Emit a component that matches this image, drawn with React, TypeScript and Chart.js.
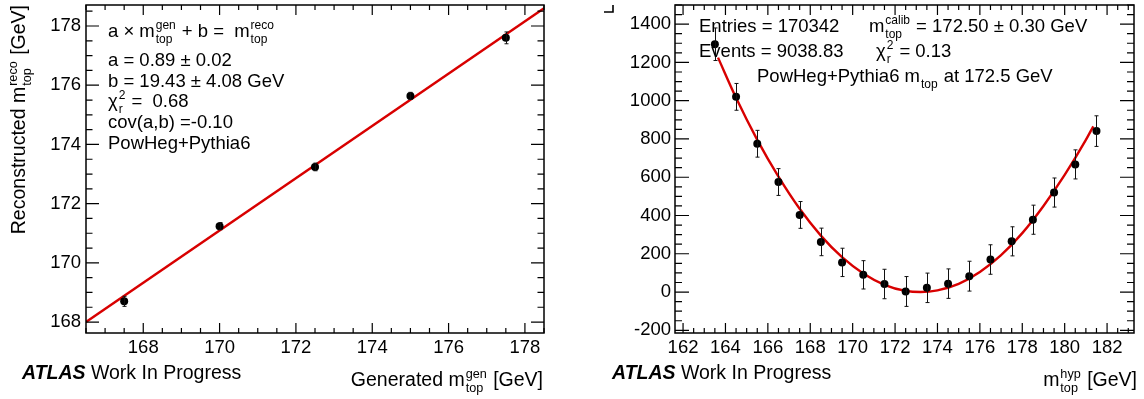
import React, { useEffect, useRef } from "react";
import { Chart, registerables } from "chart.js";

Chart.register(...registerables);

// ---------- Left panel: calibration ----------
const genMass = [167.5, 170.0, 172.5, 175.0, 177.5];
const recoMass = [168.7, 171.24, 173.24, 175.64, 177.6];
const recoErr = [0.17, 0.12, 0.13, 0.12, 0.2];
const fitGen = [166.5, 178.5];
const fitReco = [168.0, 178.6];
const leftXTicks = [168, 170, 172, 174, 176, 178];
const leftYTicks = [168, 170, 172, 174, 176, 178];

// ---------- Right panel: template fit ----------
const hypMass = [163.5, 164.5, 165.5, 166.5, 167.5, 168.5, 169.5, 170.5, 171.5, 172.5, 173.5, 174.5, 175.5, 176.5, 177.5, 178.5, 179.5, 180.5, 181.5];
const hypValue = [1295, 1020, 775, 575, 403, 262, 155, 90, 42, 3, 22, 44, 83, 170, 265, 378, 520, 667, 841];
const hypErr = [85, 70, 70, 70, 70, 72, 74, 74, 77, 78, 77, 77, 78, 77, 76, 76, 76, 76, 80];
const curveMass = [163.65, 164.5, 165.5, 166.5, 167.5, 168.5, 169.5, 170.5, 171.5, 172.5, 173.2, 174.0, 175.0, 176.0, 177.0, 178.0, 179.0, 180.0, 181.0, 181.35];
const curveValue = [1225, 1015, 795, 603, 435, 295, 182, 97, 38, 6, 0, 9, 43, 105, 193, 308, 450, 612, 795, 866];
const rightXTicks = [162, 164, 166, 168, 170, 172, 174, 176, 178, 180, 182];
const rightYTicks = [-200, 0, 200, 400, 600, 800, 1000, 1200, 1400];

const FONT = '"Liberation Sans", Arial, Helvetica, sans-serif';
const FS = 18.5;
const FT = 19.5;
const RED = "#d80000";

type Seg = { t?: string; sup?: string; sub?: string; bi?: boolean };
type TextItem = { segs: Seg[]; x: number; y: number; align?: "left" | "right"; rot?: boolean; size?: number };

function segWidths(ctx: CanvasRenderingContext2D, segs: Seg[], size: number) {
  return segs.map((s) => {
    if (s.t !== undefined) {
      ctx.font = `${s.bi ? "italic bold " : ""}${size}px ${FONT}`;
      return ctx.measureText(s.t).width;
    }
    ctx.font = `${size * 0.65}px ${FONT}`;
    const a = s.sup ? ctx.measureText(s.sup).width : 0;
    const b = s.sub ? ctx.measureText(s.sub).width : 0;
    return Math.max(a, b) + size * 0.1;
  });
}

function drawRich(ctx: CanvasRenderingContext2D, item: TextItem) {
  const size = item.size ?? FS;
  const ws = segWidths(ctx, item.segs, size);
  const total = ws.reduce((a, b) => a + b, 0);
  ctx.save();
  let x0 = item.x;
  let y0 = item.y;
  if (item.rot) {
    ctx.translate(item.x, item.y);
    ctx.rotate(-Math.PI / 2);
    x0 = 0;
    y0 = 0;
  }
  let cx = item.align === "right" ? x0 - total : x0;
  ctx.fillStyle = "#000";
  ctx.textAlign = "left";
  ctx.textBaseline = "alphabetic";
  item.segs.forEach((s, i) => {
    if (s.t !== undefined) {
      ctx.font = `${s.bi ? "italic bold " : ""}${size}px ${FONT}`;
      ctx.fillText(s.t, cx, y0);
    } else {
      ctx.font = `${size * 0.65}px ${FONT}`;
      if (s.sup) ctx.fillText(s.sup, cx + size * 0.05, y0 - size * 0.42);
      if (s.sub) ctx.fillText(s.sub, cx + size * 0.05, y0 + size * 0.3);
    }
    cx += ws[i];
  });
  ctx.restore();
}

type FrameOpts = {
  xMinor: number;
  yMinor: number;
  xMajorLen: number;
  yMajorLen: number;
  xTicks: number[];
  yTicks: number[];
  texts: TextItem[];
  errors: number[];
  mark?: boolean;
};

function makePlugin(o: FrameOpts) {
  return {
    id: "rootFrame",
    afterDatasetsDraw(chart: any) {
      const ctx: CanvasRenderingContext2D = chart.ctx;
      const xs = chart.scales.x;
      const ys = chart.scales.y;
      const ds = chart.data.datasets[0];
      ctx.save();
      ctx.strokeStyle = "#111";
      ctx.lineWidth = 1;
      ds.data.forEach((p: any, i: number) => {
        const px = Math.round(xs.getPixelForValue(p.x)) + 0.5;
        const y1 = ys.getPixelForValue(p.y + o.errors[i]);
        const y2 = ys.getPixelForValue(p.y - o.errors[i]);
        ctx.beginPath();
        ctx.moveTo(px, y1);
        ctx.lineTo(px, y2);
        ctx.moveTo(px - 2, y1);
        ctx.lineTo(px + 2, y1);
        ctx.moveTo(px - 2, y2);
        ctx.lineTo(px + 2, y2);
        ctx.stroke();
      });
      ctx.restore();
    },
    afterDraw(chart: any) {
      const ctx: CanvasRenderingContext2D = chart.ctx;
      const { left, right, top, bottom } = chart.chartArea;
      const xs = chart.scales.x;
      const ys = chart.scales.y;
      ctx.save();
      ctx.strokeStyle = "#000";
      ctx.lineWidth = 1.5;
      ctx.strokeRect(left, top, right - left, bottom - top);
      ctx.lineWidth = 1.2;
      ctx.beginPath();
      const isMajor = (arr: number[], v: number) => arr.some((t) => Math.abs(t - v) < 1e-6);
      for (let v = Math.ceil(xs.min / o.xMinor) * o.xMinor; v <= xs.max + 1e-9; v += o.xMinor) {
        const px = xs.getPixelForValue(v);
        const len = isMajor(o.xTicks, v) ? o.xMajorLen : o.xMajorLen / 2;
        ctx.moveTo(px, bottom);
        ctx.lineTo(px, bottom - len);
        ctx.moveTo(px, top);
        ctx.lineTo(px, top + len);
      }
      for (let v = Math.ceil(ys.min / o.yMinor) * o.yMinor; v <= ys.max + 1e-9; v += o.yMinor) {
        const py = ys.getPixelForValue(v);
        const len = isMajor(o.yTicks, v) ? o.yMajorLen : o.yMajorLen / 2;
        ctx.moveTo(left, py);
        ctx.lineTo(left + len, py);
        ctx.moveTo(right, py);
        ctx.lineTo(right - len, py);
      }
      ctx.stroke();
      if (o.mark) {
        ctx.lineWidth = 1.6;
        ctx.beginPath();
        ctx.moveTo(32, 12);
        ctx.lineTo(41, 12);
        ctx.lineTo(41, 5);
        ctx.stroke();
      }
      ctx.restore();
      o.texts.forEach((t) => drawRich(ctx, t));
    },
  };
}

function scaleCfg(min: number, max: number, ticks: number[], size: number, horizontal: boolean, pad: number) {
  return {
    type: "linear",
    min,
    max,
    afterBuildTicks: (s: any) => {
      s.ticks = ticks.map((v) => ({ value: v }));
    },
    afterFit: (s: any) => {
      if (horizontal) s.height = size;
      else s.width = size;
      s.paddingTop = 0;
      s.paddingBottom = 0;
      s.paddingLeft = 0;
      s.paddingRight = 0;
    },
    grid: { display: false, drawTicks: false },
    border: { display: false },
    ticks: {
      autoSkip: false,
      maxRotation: 0,
      minRotation: 0,
      padding: pad,
      color: "#000",
      font: { family: FONT, size: FS },
      callback: (v: any) => String(v),
    },
  };
}

const leftTexts: TextItem[] = [
  { segs: [{ t: "a \u00d7 m" }, { sup: "gen", sub: "top" }, { t: " + b =  m" }, { sup: "reco", sub: "top" }], x: 108, y: 37 },
  { segs: [{ t: "a = 0.89 \u00b1 0.02" }], x: 108, y: 66 },
  { segs: [{ t: "b = 19.43 \u00b1 4.08 GeV" }], x: 108, y: 86.5 },
  { segs: [{ t: "\u03c7" }, { sup: "2", sub: "r" }, { t: " =  0.68" }], x: 108, y: 107 },
  { segs: [{ t: "cov(a,b) =-0.10" }], x: 108, y: 128 },
  { segs: [{ t: "PowHeg+Pythia6" }], x: 108, y: 148.5 },
  { segs: [{ t: "ATLAS", bi: true }, { t: " Work In Progress" }], x: 22, y: 379, size: FT },
  { segs: [{ t: "Generated m" }, { sup: "gen", sub: "top" }, { t: " [GeV]" }], x: 543, y: 386, align: "right", size: FT },
  { segs: [{ t: "Reconstructed m" }, { sup: "reco", sub: "top" }, { t: " [GeV]" }], x: 25, y: 5, align: "right", rot: true, size: FT },
];

const rightTexts: TextItem[] = [
  { segs: [{ t: "Entries = 170342" }], x: 127, y: 32 },
  { segs: [{ t: "m" }, { sup: "calib", sub: "top" }, { t: " = 172.50 \u00b1 0.30 GeV" }], x: 297, y: 32 },
  { segs: [{ t: "Events = 9038.83" }], x: 127, y: 57 },
  { segs: [{ t: "\u03c7" }, { sup: "2", sub: "r" }, { t: " = 0.13" }], x: 304, y: 57 },
  { segs: [{ t: "PowHeg+Pythia6 m" }, { sub: "top" }, { t: " at 172.5 GeV" }], x: 185, y: 82 },
  { segs: [{ t: "ATLAS", bi: true }, { t: " Work In Progress" }], x: 40, y: 379, size: FT },
  { segs: [{ t: "m" }, { sup: "hyp", sub: "top" }, { t: " [GeV]" }], x: 565, y: 386, align: "right", size: FT },
];

export default function App() {
  const leftRef = useRef<HTMLCanvasElement>(null);
  const rightRef = useRef<HTMLCanvasElement>(null);

  useEffect(() => {
    const common = {
      responsive: false,
      animation: false as const,
      devicePixelRatio: 1,
      events: [] as any[],
    };
    const left = new Chart(leftRef.current as HTMLCanvasElement, {
      type: "scatter",
      data: {
        datasets: [
          {
            data: genMass.map((x, i) => ({ x, y: recoMass[i] })),
            pointRadius: 4,
            pointBackgroundColor: "#000",
            pointBorderColor: "#000",
            pointBorderWidth: 0,
            showLine: false,
            order: 0,
          },
          {
            data: fitGen.map((x, i) => ({ x, y: fitReco[i] })),
            showLine: true,
            borderColor: RED,
            borderWidth: 2.4,
            pointRadius: 0,
            order: 1,
          },
        ],
      },
      options: {
        ...common,
        layout: { padding: { left: 0, right: 28, top: 5, bottom: 0 } },
        plugins: { legend: { display: false }, tooltip: { enabled: false } },
        scales: {
          x: scaleCfg(166.5, 178.5, leftXTicks, 66, true, 4),
          y: scaleCfg(167.63, 178.71, leftYTicks, 86, false, 5),
        } as any,
      },
      plugins: [
        makePlugin({ xMinor: 0.5, yMinor: 0.5, xMajorLen: 10, yMajorLen: 13, xTicks: leftXTicks, yTicks: leftYTicks, texts: leftTexts, errors: recoErr }),
      ],
    } as any);

    const right = new Chart(rightRef.current as HTMLCanvasElement, {
      type: "scatter",
      data: {
        datasets: [
          {
            data: hypMass.map((x, i) => ({ x, y: hypValue[i] })),
            pointRadius: 4,
            pointBackgroundColor: "#000",
            pointBorderColor: "#000",
            pointBorderWidth: 0,
            showLine: false,
            order: 0,
          },
          {
            data: curveMass.map((x, i) => ({ x, y: curveValue[i] })),
            showLine: true,
            borderColor: RED,
            borderWidth: 2.4,
            pointRadius: 0,
            cubicInterpolationMode: "monotone",
            order: 1,
          },
        ],
      },
      options: {
        ...common,
        layout: { padding: { left: 0, right: 10, top: 5, bottom: 0 } },
        plugins: { legend: { display: false }, tooltip: { enabled: false } },
        scales: {
          x: scaleCfg(161.62, 183.27, rightXTicks, 66, true, 4),
          y: scaleCfg(-214, 1500, rightYTicks, 103, false, 4),
        } as any,
      },
      plugins: [
        makePlugin({ xMinor: 0.5, yMinor: 50, xMajorLen: 10, yMajorLen: 14, xTicks: rightXTicks, yTicks: rightYTicks, texts: rightTexts, errors: hypErr, mark: true }),
      ],
    } as any);

    return () => {
      left.destroy();
      right.destroy();
    };
  }, []);

  return (
    <div style={{ position: "fixed", left: 0, top: 0, width: 1144, height: 399, background: "#fff" }}>
      <canvas ref={leftRef} width={572} height={399} style={{ position: "absolute", left: 0, top: 0 }} />
      <canvas ref={rightRef} width={572} height={399} style={{ position: "absolute", left: 572, top: 0 }} />
    </div>
  );
}
